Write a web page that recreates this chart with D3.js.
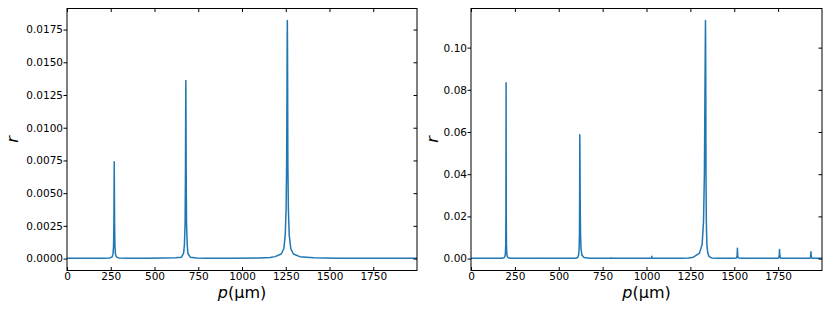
<!DOCTYPE html>
<html>
<head>
<meta charset="utf-8">
<script src="https://cdn.jsdelivr.net/npm/d3@7"></script>
<style>
  html, body { margin: 0; padding: 0; background: #fff; }
  svg { display: block; font-family: "DejaVu Sans", sans-serif; }
</style>
</head>
<body>
<svg id="chart" width="830" height="312"></svg>
<script>
// ---------- data ----------
const xTicks = [0, 250, 500, 750, 1000, 1250, 1500, 1750];
const yTicksLeft = [0, 0.0025, 0.005, 0.0075, 0.01, 0.0125, 0.015, 0.0175];
const yTicksRight = [0, 0.02, 0.04, 0.06, 0.08, 0.10];

// left panel: position p (µm) and reflectance r
const pLeft = [0, 100, 200, 245, 258, 263, 266, 268, 269, 270, 271, 272, 274, 277, 282, 295, 350, 450, 550, 620, 654, 666, 671, 675, 677, 678, 679, 680, 681, 683, 687, 691, 704, 740, 800, 950, 1100, 1160, 1189, 1224, 1239, 1247, 1252, 1255, 1257, 1258, 1259, 1260, 1261, 1262, 1265, 1270, 1279, 1294, 1330, 1410, 1550, 1750, 2000];
const rLeft = [0.00002, 0.00002, 0.00003, 0.00005, 0.00013, 0.00034, 0.00093, 0.00268, 0.00514, 0.0074, 0.00514, 0.00268, 0.00093, 0.00034, 0.00013, 0.00005, 0.00003, 0.00003, 0.00004, 0.00006, 0.00011, 0.00039, 0.00105, 0.00274, 0.0068, 0.0109, 0.0136, 0.0109, 0.0068, 0.00274, 0.00105, 0.00039, 0.00011, 0.00004, 0.00003, 0.00003, 0.00005, 0.00009, 0.00015, 0.00035, 0.00075, 0.00177, 0.00379, 0.0073, 0.0126, 0.0164, 0.0182, 0.0164, 0.0126, 0.0073, 0.00379, 0.00177, 0.00075, 0.00035, 0.00015, 0.00006, 0.00003, 0.00002, 0.00002];

// right panel
const pRight = [0, 100, 140, 175, 188, 193, 196, 198, 199, 200, 201, 202, 204, 207, 212, 225, 260, 370, 378, 380, 382, 390, 500, 560, 596, 608, 613, 616, 618, 619, 620, 621, 622, 624, 627, 632, 644, 680, 760, 796, 800, 804, 900, 990, 1026, 1029, 1030, 1031, 1034, 1100, 1200, 1240, 1267, 1302, 1317, 1325, 1330, 1333, 1335, 1336, 1337, 1338, 1339, 1341, 1344, 1349, 1357, 1372, 1407, 1460, 1498, 1510, 1514, 1516, 1517, 1518, 1519, 1520, 1522, 1526, 1540, 1650, 1738, 1750, 1754, 1756, 1757, 1758, 1759, 1760, 1762, 1766, 1780, 1870, 1917, 1929, 1933, 1935, 1936, 1937, 1938, 1939, 1941, 1945, 1960, 2000];
const rRight = [0.0001, 0.0001, 0.00012, 0.00018, 0.00044, 0.00093, 0.00244, 0.00693, 0.0222, 0.0833, 0.0222, 0.00693, 0.00244, 0.00093, 0.00044, 0.00018, 0.0001, 0.0001, 0.00015, 0.00025, 0.00015, 0.0001, 0.0001, 0.00013, 0.00018, 0.00048, 0.00169, 0.00453, 0.01184, 0.02945, 0.0587, 0.04706, 0.02945, 0.01184, 0.00453, 0.00169, 0.00048, 0.00018, 0.0001, 0.0001, 0.0004, 0.0001, 0.0001, 0.00012, 0.00018, 0.0004, 0.0011, 0.0004, 0.00018, 0.00013, 0.00018, 0.00031, 0.00066, 0.00258, 0.00674, 0.0176, 0.0407, 0.0782, 0.1017, 0.1129, 0.1017, 0.0782, 0.0407, 0.0176, 0.00674, 0.00258, 0.00092, 0.00031, 0.00018, 0.00015, 0.00017, 0.00022, 0.0005, 0.0014, 0.0030, 0.0049, 0.0030, 0.0014, 0.0005, 0.00022, 0.00012, 0.0001, 0.00012, 0.00019, 0.00046, 0.00124, 0.00264, 0.0043, 0.00264, 0.00124, 0.00046, 0.00019, 0.00012, 0.0001, 0.00012, 0.00017, 0.00035, 0.00095, 0.00199, 0.0032, 0.00199, 0.00095, 0.00035, 0.00017, 0.00012, 0.0001];

const panels = [
  { p: pLeft, r: rLeft, yMin: -0.00091, yMax: 0.01911, yTicks: yTicksLeft, fmt: ".4f", x0: 67, x1: 417, ylabX: 18 },
  { p: pRight, r: rRight, yMin: -0.00565, yMax: 0.11855, yTicks: yTicksRight, fmt: ".2f", x0: 471, x1: 822, ylabX: 438 }
];

const svg = d3.select("#chart");
const plotTop = 8.5, plotBottom = 270.5;
const lineColor = "#1f77b4";
const tickLen = 3.5;

panels.forEach(pn => {
  const x = d3.scaleLinear().domain([0, 2000]).range([pn.x0, pn.x1]);
  const y = d3.scaleLinear().domain([pn.yMin, pn.yMax]).range([plotBottom, plotTop]);
  const g = svg.append("g");

  const id = "clip" + pn.x0;
  svg.append("defs").append("clipPath").attr("id", id)
    .append("rect").attr("x", pn.x0).attr("y", plotTop).attr("width", pn.x1 - pn.x0).attr("height", plotBottom - plotTop);

  const pts = pn.p.map((v, i) => [v, pn.r[i]]);
  g.append("path")
    .attr("clip-path", `url(#${id})`)
    .attr("d", d3.line().x(d => x(d[0])).y(d => y(d[1]))(pts))
    .attr("fill", "none").attr("stroke", lineColor).attr("stroke-width", 1.5)
    .attr("stroke-linejoin", "round").attr("stroke-linecap", "round");

  const styleAxis = sel => {
    sel.select(".domain").remove();
    sel.selectAll(".tick line").attr("stroke", "#000").attr("stroke-width", 1);
    sel.selectAll("text").attr("fill", "#000").attr("font-size", "10.5px").attr("font-family", "DejaVu Sans, sans-serif");
  };

  g.append("g").attr("transform", `translate(0,${plotBottom})`)
    .call(d3.axisBottom(x).tickValues(xTicks).tickFormat(d3.format("d")).tickSize(-tickLen).tickSizeOuter(0).tickPadding(2.5))
    .call(styleAxis);
  g.append("g").attr("transform", `translate(0,${plotTop})`)
    .call(d3.axisTop(x).tickValues(xTicks).tickFormat("").tickSize(-tickLen).tickSizeOuter(0))
    .call(styleAxis);
  g.append("g").attr("transform", `translate(${pn.x0},0)`)
    .call(d3.axisLeft(y).tickValues(pn.yTicks).tickFormat(d3.format(pn.fmt)).tickSize(tickLen).tickSizeOuter(0).tickPadding(0.5))
    .call(styleAxis);
  g.append("g").attr("transform", `translate(${pn.x1},0)`)
    .call(d3.axisRight(y).tickValues(pn.yTicks).tickFormat("").tickSize(-tickLen).tickSizeOuter(0))
    .call(styleAxis);

  g.append("rect").attr("x", pn.x0).attr("y", plotTop).attr("width", pn.x1 - pn.x0).attr("height", plotBottom - plotTop)
    .attr("fill", "none").attr("stroke", "#000").attr("stroke-width", 1);

  const xl = g.append("text").attr("x", (pn.x0 + pn.x1) / 2).attr("y", 298)
    .attr("text-anchor", "middle").attr("font-size", "16px").attr("fill", "#000");
  xl.append("tspan").attr("font-style", "italic").text("p");
  xl.append("tspan").text("(μm)");

  g.append("text").attr("transform", `translate(${pn.ylabX},${(plotTop + plotBottom) / 2}) rotate(-90)`)
    .attr("text-anchor", "middle").attr("font-size", "16px").attr("font-style", "italic").attr("fill", "#000")
    .text("r");
});
</script>
</body>
</html>
